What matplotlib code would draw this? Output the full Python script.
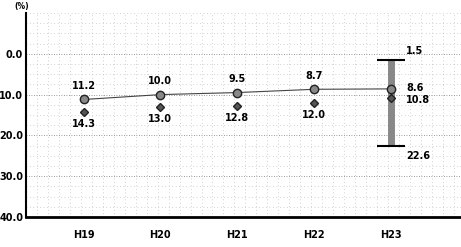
import matplotlib.pyplot as plt
import numpy as np

# --- Data ---
years = ["H19", "H20", "H21", "H22", "H23"]
line_vals = [11.2, 10.0, 9.5, 8.7, 8.6]
diamond_vals = [14.3, 13.0, 12.8, 12.0, 10.8]
range_low = 1.5
range_high = 22.6

x = np.arange(len(years))

fig = plt.figure(figsize=(4.61, 2.47), dpi=100)
ax = fig.add_axes([26 / 461, 30 / 247, 440 / 461, 204 / 247])

# grid
ax.set_ylim(40, -10)
ax.set_xlim(-0.75, 4.98)
ax.set_yticks([0, 10, 20, 30, 40])
ax.set_yticklabels(["0.0", "10.0", "20.0", "30.0", "40.0"], fontweight="bold", fontsize=7)
ax.set_yticks(np.arange(-10, 40, 2.5), minor=True)
ax.set_xticks(np.arange(-0.75, 5.0, 1 / 7), minor=True)
ax.set_xticks(x)
ax.set_xticklabels(years, fontweight="bold", fontsize=7)
ax.tick_params(axis="both", which="both", length=0)
ax.tick_params(axis="x", pad=9)
ax.tick_params(axis="y", pad=2)
ax.grid(which="minor", color="#aaaaaa", linestyle=(0, (1, 4)), linewidth=0.5)
for yv in [0, 10, 20, 30]:
    ax.axhline(yv, color="#777777", linestyle=(0, (1, 2)), linewidth=0.6, zorder=1)

for s in ["top", "right"]:
    ax.spines[s].set_visible(False)
ax.spines["left"].set_linewidth(1.5)
ax.spines["bottom"].set_linewidth(2)

# range bar for H23
ax.vlines(x[4], range_low, range_high, color="#888888", linewidth=5, zorder=2)
ax.errorbar(x[4], (range_low + range_high) / 2, yerr=(range_high - range_low) / 2,
            fmt="none", ecolor="black", elinewidth=0, capsize=10, capthick=1.5, zorder=3)

# series
ax.plot(x, line_vals, color="#444444", linewidth=0.8, marker="o", markersize=6,
        markerfacecolor="#888888", markeredgecolor="#222222", zorder=4)
ax.plot(x, diamond_vals, linestyle="none", marker="D", markersize=4.5,
        markerfacecolor="#555555", markeredgecolor="#222222", zorder=4)

# labels
for i in range(4):
    ax.text(x[i], line_vals[i] - 2.0, f"{line_vals[i]:.1f}", ha="center", va="bottom",
            fontsize=7, fontweight="bold")
    ax.text(x[i], diamond_vals[i] + 1.8, f"{diamond_vals[i]:.1f}", ha="center", va="top",
            fontsize=7, fontweight="bold")
ax.text(x[4] + 0.2, line_vals[4] - 0.3, f"{line_vals[4]:.1f}", ha="left", va="center",
        fontsize=7, fontweight="bold")
ax.text(x[4] + 0.2, diamond_vals[4] + 0.6, f"{diamond_vals[4]:.1f}", ha="left", va="center",
        fontsize=7, fontweight="bold")
ax.text(x[4] + 0.2, range_low - 2.2, f"{range_low:.1f}", ha="left", va="center",
        fontsize=7, fontweight="bold")
ax.text(x[4] + 0.2, range_high + 2.5, f"{range_high:.1f}", ha="left", va="center",
        fontsize=7, fontweight="bold")

fig.text(14 / 461, 1 - 6 / 247, "(%)", fontsize=5.5, fontweight="bold", va="center")

fig.savefig("out.png", dpi=100)
